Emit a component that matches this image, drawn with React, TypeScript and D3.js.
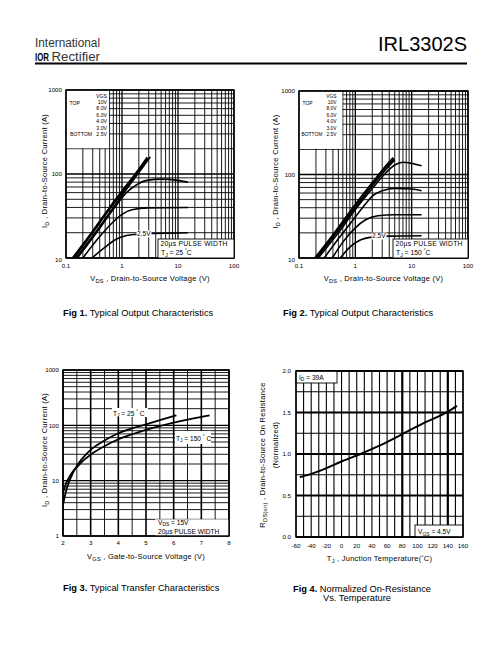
import React from "react";
import * as d3 from "d3";

const FONT = "'Liberation Sans', Arial, Helvetica, sans-serif";
type Pt = [number, number];

// ---------------- Fig 1: Typical Output Characteristics, TJ = 25°C ----------------
const fig1XTicks = [0.1, 1, 10, 100];
const fig1YTicks = [10, 100, 1000];
const legendLabels = ["10V", "8.0V", "6.0V", "4.0V", "3.0V", "2.5V"];
const fig1Vgs10: Pt[] = [[0.13, 10], [0.3, 21], [0.6, 40], [1, 63], [2, 115], [2.8, 158]];
const fig1Vgs8: Pt[] = [[0.135, 10], [0.3, 20.5], [0.6, 39], [1, 61], [2, 112], [2.85, 155]];
const fig1Vgs6: Pt[] = [[0.14, 10], [0.3, 20], [0.6, 38], [1, 59], [2, 108], [2.9, 152]];
const fig1Vgs4: Pt[] = [[0.15, 10], [0.35, 21], [0.7, 40], [1.2, 66], [2, 104], [3.2, 160]];
const fig1Vgs3: Pt[] = [[0.16, 10], [0.35, 20], [0.7, 38], [1.2, 60], [1.8, 74], [2.8, 84], [5, 87], [10, 84], [15, 80]];
const fig1Vgs275: Pt[] = [[0.2, 10], [0.4, 18], [0.7, 27], [1, 33], [1.5, 37.5], [3, 39.5], [15, 40]];
const fig1Vgs25: Pt[] = [[0.29, 10], [0.5, 13.5], [0.8, 16.8], [1.2, 18.5], [2, 19.2], [15, 20]];
const fig1Curves = [fig1Vgs10, fig1Vgs8, fig1Vgs6, fig1Vgs4, fig1Vgs3, fig1Vgs275, fig1Vgs25];

// ---------------- Fig 2: Typical Output Characteristics, TJ = 150°C ----------------
const fig2Vgs10: Pt[] = [[0.19, 10], [0.4, 19], [1, 44], [2, 80], [3.5, 128], [4.7, 160]];
const fig2Vgs8: Pt[] = [[0.2, 10], [0.4, 18.5], [1, 42], [2, 77], [3.5, 122], [4.9, 155]];
const fig2Vgs6: Pt[] = [[0.21, 10], [0.45, 19.5], [1, 40], [2, 73], [3.5, 115], [5, 150]];
const fig2Vgs4: Pt[] = [[0.22, 10], [0.5, 20], [1, 38], [2, 68], [3.5, 105], [5, 130], [7, 140], [10, 136], [15, 127]];
const fig2Vgs3: Pt[] = [[0.28, 10], [0.5, 17], [1, 31], [1.5, 44], [2, 55], [3, 64], [5, 68], [10, 67], [15, 64]];
const fig2Vgs275: Pt[] = [[0.39, 10], [0.6, 15.5], [1, 23], [1.5, 28.5], [2.5, 32], [5, 33], [15, 33]];
const fig2Vgs25: Pt[] = [[0.54, 10], [0.8, 13.5], [1.2, 16.3], [2, 17.8], [4, 18.3], [15, 18.5]];
const fig2Curves = [fig2Vgs10, fig2Vgs8, fig2Vgs6, fig2Vgs4, fig2Vgs3, fig2Vgs275, fig2Vgs25];

// ---------------- Fig 3: Typical Transfer Characteristics ----------------
const fig3XTicks = [2, 3, 4, 5, 6, 7, 8];
const fig3YTicks = [1, 10, 100, 1000];
const fig3Tj25: Pt[] = [[2, 3.6], [2.1, 6.2], [2.2, 9], [2.35, 13.5], [2.5, 18.5], [2.75, 27], [3, 36], [3.5, 53], [4, 72], [4.5, 88], [5, 104], [5.5, 124], [6.1, 152]];
const fig3Tj150: Pt[] = [[2, 6], [2.1, 8.6], [2.2, 11], [2.35, 14.5], [2.5, 17.5], [2.75, 23.5], [3, 29.5], [3.5, 42], [4, 56], [4.5, 69], [5, 83], [6, 112], [6.5, 127], [7, 142], [7.3, 152]];

// ---------------- Fig 4: Normalized On-Resistance vs Temperature ----------------
const fig4XTicks = [-60, -40, -20, 0, 20, 40, 60, 80, 100, 120, 140, 160];
const fig4YTicks = [0, 0.5, 1.0, 1.5, 2.0];
const fig4Rds: Pt[] = [[-55, 0.72], [-40, 0.76], [-20, 0.83], [0, 0.91], [25, 1.0], [50, 1.1], [80, 1.24], [110, 1.38], [140, 1.51], [152, 1.58]];

const isDecade = (v: number) => Math.abs(Math.log10(v) - Math.round(Math.log10(v))) < 1e-6;
const fmt = (v: number) => String(v);

function Sub({ main, sub, rest, size }: { main: string; sub: string; rest: string; size: number }) {
  return (
    <>
      <tspan>{main}</tspan>
      <tspan fontSize={size * 0.75} dy={size * 0.3}>{sub}</tspan>
      <tspan dy={-size * 0.3}>{rest}</tspan>
    </>
  );
}

function OutputChart(props: {
  x0: number; x1: number; y0: number; y1: number;
  curves: Pt[][]; tj: string; label25: Pt; lbl25x: number; pulseX: number; legendRight: number;
  caption: string; capX: number; titleX: number; legendFont: number; bottomX: number;
}) {
  const { x0, x1, y0, y1, curves, tj, label25, lbl25x, pulseX, legendRight, caption, capX, titleX, legendFont, bottomX } = props;
  const x = d3.scaleLog().domain([0.1, 100]).range([x0, x1]);
  const y = d3.scaleLog().domain([10, 1000]).range([y1, y0]);
  const line = d3.line<Pt>().x((d) => x(d[0])).y((d) => y(d[1])).curve(d3.curveMonotoneX);
  const xs = x.ticks();
  const ys = y.ticks();
  const legRight = x(0.6);
  const legBottom = y(200);
  const rows = ["VGS", ...legendLabels];
  const id = "clip" + x0;
  return (
    <g fontFamily={FONT}>
      <clipPath id={id}><rect x={x0} y={y0} width={x1 - x0} height={y1 - y0} /></clipPath>
      {xs.map((v, i) => (
        <line key={"vx" + i} x1={x(v)} x2={x(v)} y1={y0} y2={y1} stroke="#000" strokeWidth={isDecade(v) ? 1.3 : 0.9} />
      ))}
      {ys.map((v, i) => (
        <line key={"hy" + i} x1={x0} x2={x1} y1={y(v)} y2={y(v)} stroke="#000" strokeWidth={isDecade(v) ? 1.3 : 0.9} />
      ))}
      <rect x={x0 + 0.7} y={y0 + 0.7} width={legRight - x0 - 1.2} height={legBottom - y0 - 1.2} fill="#fff" />
      <g clipPath={`url(#${id})`}>
        {curves.map((c, i) => (
          <path key={"c" + i} d={line(c) || ""} fill="none" stroke="#000" strokeWidth={1.6} />
        ))}
      </g>
      <rect x={x0} y={y0} width={x1 - x0} height={y1 - y0} fill="none" stroke="#000" strokeWidth={1.4} />
      <g fontSize={legendFont}>
        {rows.map((r, i) => (
          <text key={"lg" + i} x={legendRight} y={97.5 + i * 6.4} textAnchor="end">{r}</text>
        ))}
        <text x={x0 + 3.5} y={97.5 + 6.4 * 1 + 1.5}>TOP</text>
        <text x={bottomX} y={97.5 + 6.4 * 6}>BOTTOM</text>
      </g>
      <rect x={pulseX} y={y1 - 19} width={x1 - pulseX} height={19} fill="#fff" stroke="#000" strokeWidth={0.9} />
      <text x={pulseX + 2.5} y={y1 - 12.2} fontSize={6.8} letterSpacing={0.25}>20µs PULSE WIDTH</text>
      <text x={pulseX + 3} y={y1 - 3.2} fontSize={6.8}>
        <Sub main="T" sub="J" rest={` = ${tj} `} size={6.8} />
        <tspan fontSize={4.5} dy={-2.5}>°</tspan>
        <tspan dy={2.5}>C</tspan>
      </text>
      <rect x={lbl25x - 0.5} y={y(label25[1]) - 3.5} width={15} height={7} fill="#fff" />
      <text x={lbl25x} y={y(label25[1]) + 2.4} fontSize={6.6}>2.5V</text>
      {fig1XTicks.map((v, i) => (
        <text key={"xt" + i} x={x(v)} y={y1 + 10} fontSize={6.2} textAnchor="middle">{fmt(v)}</text>
      ))}
      {fig1YTicks.map((v, i) => (
        <text key={"yt" + i} x={x0 - 4} y={y(v) + (i === 0 ? 3.5 : 2.2)} fontSize={6.2} textAnchor="end">{v}</text>
      ))}
      <text x={(x0 + x1) / 2} y={y1 + 22.5} fontSize={7.5} textAnchor="middle" letterSpacing={0.25}>
        <Sub main="V" sub="DS" rest=" , Drain-to-Source Voltage (V)" size={7.5} />
      </text>
      <text transform={`translate(${titleX},${(y0 + y1) / 2 - 3}) rotate(-90)`} fontSize={7.5} textAnchor="middle" letterSpacing={0.3}>
        <Sub main="I" sub="D" rest=" , Drain-to-Source Current (A)" size={7.5} />
      </text>
      <text x={capX} y={316} fontSize={9.3}>
        <tspan fontWeight="bold">{caption}</tspan>
        <tspan>  Typical Output Characteristics</tspan>
      </text>
    </g>
  );
}

function TransferChart() {
  const x0 = 63, x1 = 229, y0 = 370, y1 = 536;
  const x = d3.scaleLinear().domain([2, 8]).range([x0, x1]);
  const y = d3.scaleLog().domain([1, 1000]).range([y1, y0]);
  const line = d3.line<Pt>().x((d) => x(d[0])).y((d) => y(d[1])).curve(d3.curveMonotoneX);
  const vx = d3.range(2, 8.001, 0.5);
  const hy = y.ticks();
  return (
    <g fontFamily={FONT}>
      {vx.map((v, i) => (
        <line key={"v" + i} x1={x(v)} x2={x(v)} y1={y0} y2={y1} stroke="#000" strokeWidth={Number.isInteger(v) ? 1.6 : 0.9} />
      ))}
      {hy.map((v, i) => (
        <line key={"h" + i} x1={x0} x2={x1} y1={y(v)} y2={y(v)} stroke="#000" strokeWidth={isDecade(v) ? 1.4 : 0.9} />
      ))}
      <rect x={112} y={408} width={36} height={9} fill="#fff" />
      <rect x={175} y={431} width={36} height={13} fill="#fff" />
      <rect x={155} y={y(2)} width={x1 - 155} height={y1 - y(2)} fill="#fff" />
      <path d={line(fig3Tj25) || ""} fill="none" stroke="#000" strokeWidth={1.8} />
      <path d={line(fig3Tj150) || ""} fill="none" stroke="#000" strokeWidth={1.8} />
      <rect x={x0} y={y0} width={x1 - x0} height={y1 - y0} fill="none" stroke="#000" strokeWidth={1.4} />
      <text x={113} y={415.5} fontSize={6.6}>
        <Sub main="T" sub="J" rest=" = 25 " size={6.6} />
        <tspan fontSize={4.5} dy={-2.5}>°</tspan><tspan dy={2.5}> C</tspan>
      </text>
      <text x={176} y={440.5} fontSize={6.6}>
        <Sub main="T" sub="J" rest=" = 150 " size={6.6} />
        <tspan fontSize={4.5} dy={-2.5}>°</tspan><tspan dy={2.5}> C</tspan>
      </text>
      <text x={158} y={524.5} fontSize={6.6}>
        <Sub main="V" sub="DS" rest=" = 15V" size={6.6} />
      </text>
      <text x={158} y={534} fontSize={6.6}>20µs PULSE WIDTH</text>
      {fig3XTicks.map((v, i) => (
        <text key={"xt" + i} x={x(v)} y={y1 + 9} fontSize={6.2} textAnchor="middle">{v}</text>
      ))}
      {fig3YTicks.map((v, i) => (
        <text key={"yt" + i} x={x0 - 4} y={y(v) + 2.2} fontSize={6.2} textAnchor="end">{v}</text>
      ))}
      <text x={(x0 + x1) / 2} y={558.5} fontSize={7.5} textAnchor="middle" letterSpacing={0.25}>
        <Sub main="V" sub="GS" rest=" , Gate-to-Source Voltage (V)" size={7.5} />
      </text>
      <text transform={`translate(47,${(y0 + y1) / 2 - 3}) rotate(-90)`} fontSize={7.5} textAnchor="middle" letterSpacing={0.3}>
        <Sub main="I" sub="D" rest=" , Drain-to-Source Current (A)" size={7.5} />
      </text>
      <text x={63} y={591} fontSize={9.3}>
        <tspan fontWeight="bold">Fig 3.</tspan>
        <tspan>  Typical Transfer Characteristics</tspan>
      </text>
    </g>
  );
}

function RdsChart() {
  const x0 = 296, x1 = 463, y0 = 371, y1 = 537;
  const x = d3.scaleLinear().domain([-60, 160]).range([x0, x1]);
  const y = d3.scaleLinear().domain([0, 2]).range([y1, y0]);
  const line = d3.line<Pt>().x((d) => x(d[0])).y((d) => y(d[1])).curve(d3.curveMonotoneX);
  const vx = d3.range(-60, 160.1, 10);
  const hy = d3.range(0, 2.001, 0.25);
  return (
    <g fontFamily={FONT}>
      {vx.map((v, i) => (
        <line key={"v" + i} x1={x(v)} x2={x(v)} y1={y0} y2={y1} stroke="#000" strokeWidth={v === 80 || v === 140 ? 2.2 : 1.1} />
      ))}
      {hy.map((v, i) => (
        <line key={"h" + i} x1={x0} x2={x1} y1={y(v)} y2={y(v)} stroke="#000" strokeWidth={Math.abs(v * 2 - Math.round(v * 2)) < 1e-6 ? 1.8 : 1.1} />
      ))}
      <rect x={x0} y={y0} width={41} height={12} fill="#fff" stroke="#000" strokeWidth={0.9} />
      <rect x={415} y={y1 - 12} width={x1 - 415} height={12} fill="#fff" stroke="#000" strokeWidth={0.9} />
      <path d={line(fig4Rds) || ""} fill="none" stroke="#000" strokeWidth={2} />
      <rect x={x0} y={y0} width={x1 - x0} height={y1 - y0} fill="none" stroke="#000" strokeWidth={1.4} />
      <text x={299} y={379.5} fontSize={6.6}>
        <Sub main="I" sub="D" rest=" = 39A" size={6.6} />
      </text>
      <text x={418} y={534} fontSize={6.6}>
        <Sub main="V" sub="GS" rest=" = 4.5V" size={6.6} />
      </text>
      {fig4XTicks.map((v, i) => (
        <text key={"xt" + i} x={x(v)} y={y1 + 10.5} fontSize={6.2} textAnchor="middle">{v}</text>
      ))}
      {fig4YTicks.map((v, i) => (
        <text key={"yt" + i} x={x0 - 5} y={y(v) + 2.2} fontSize={6.2} textAnchor="end">{v.toFixed(1)}</text>
      ))}
      <text x={(x0 + x1) / 2} y={561} fontSize={7.5} textAnchor="middle" letterSpacing={0.25}>
        <Sub main="T" sub="J" rest=" , Junction Temperature(" size={7.5} />
        <tspan fontSize={5} dy={-2.5}>°</tspan><tspan dy={2.5}>C)</tspan>
      </text>
      <text transform={`translate(265,455) rotate(-90)`} fontSize={7.5} textAnchor="middle" letterSpacing={0.3}>
        <Sub main="R" sub="DS(on)" rest=" , Drain-to-Source On Resistance" size={7.5} />
      </text>
      <text transform={`translate(277.5,445) rotate(-90)`} fontSize={7.5} textAnchor="middle" letterSpacing={0.3}>(Normalized)</text>
      <text x={293} y={591.5} fontSize={9.3}>
        <tspan fontWeight="bold">Fig 4.</tspan>
        <tspan>  Normalized On-Resistance</tspan>
      </text>
      <text x={323} y={600.5} fontSize={9.3}>Vs. Temperature</text>
    </g>
  );
}

export default function App() {
  return (
    <svg width={504} height={648} style={{ position: "absolute", left: 0, top: 0, background: "#fff" }}>
      <rect width={504} height={648} fill="#fff" />
      <g fontFamily={FONT}>
        <text x={35} y={47} fontSize={12} textLength={65} lengthAdjust="spacingAndGlyphs" fill="#333">International</text>
        <text x={35} y={61} fontSize={10} fontWeight="bold" textLength={14} lengthAdjust="spacingAndGlyphs">IOR</text>
        <text x={51.5} y={61} fontSize={12} textLength={48.5} lengthAdjust="spacingAndGlyphs" fill="#333">Rectifier</text>
        <text x={467} y={51} fontSize={20} textAnchor="end">IRL3302S</text>
        <line x1={35} x2={467} y1={63.5} y2={63.5} stroke="#000" strokeWidth={1.8} />
      </g>
      <OutputChart x0={66} x1={234} y0={90} y1={258} curves={fig1Curves} tj="25" label25={[1.5, 19.3]} lbl25x={137}
        pulseX={158} legendRight={107} caption="Fig 1." capX={63} titleX={47} legendFont={5.2} bottomX={70} />
      <OutputChart x0={299} x1={468} y0={91} y1={258} curves={fig2Curves} tj="150" label25={[1.5, 18.3]} lbl25x={372}
        pulseX={393} legendRight={336.5} caption="Fig 2." capX={283} titleX={278} legendFont={4.9} bottomX={301.5} />
      <TransferChart />
      <RdsChart />
    </svg>
  );
}
